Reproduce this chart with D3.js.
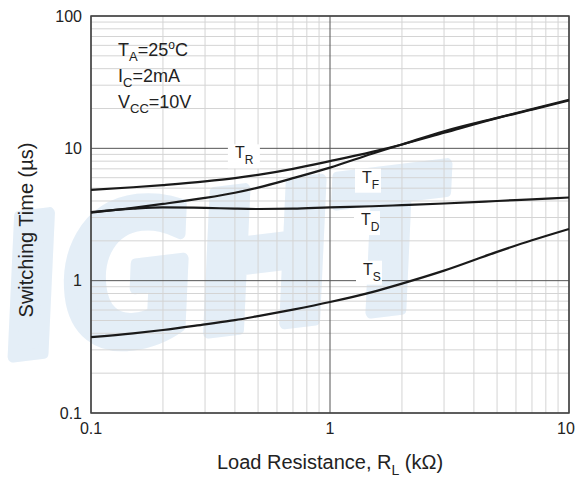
<!DOCTYPE html>
<html>
<head>
<meta charset="utf-8">
<script src="https://cdn.jsdelivr.net/npm/d3@7"></script>
<style>
  body { margin: 0; background: #fff; }
  text { font-family: "Liberation Sans", Arial, sans-serif; fill: #222; }
  .minor { stroke: #d4d4d4; stroke-width: 1; }
  .major { stroke: #555; stroke-width: 1; }
  .curve { fill: none; stroke: #1a1a1a; stroke-width: 2.2; }
</style>
</head>
<body>
<svg id="chart"></svg>
<script>
// load resistance (kOhm) sample points
var rl = [0.1, 0.15, 0.2, 0.3, 0.4, 0.5, 0.7, 1, 1.5, 2, 3, 5, 7, 10];
// switching times (us)
var tR = [4.85, 5.08, 5.28, 5.62, 5.95, 6.3, 7.0, 8.0, 9.4, 10.7, 13.1, 16.9, 19.6, 23.0];
var tF = [3.27, 3.55, 3.8, 4.22, 4.62, 5.05, 5.95, 7.15, 9.1, 10.7, 13.45, 17.0, 19.8, 23.3];
var tD = [3.3, 3.5, 3.58, 3.55, 3.5, 3.48, 3.5, 3.58, 3.65, 3.72, 3.83, 4.0, 4.12, 4.25];
var tS = [0.374, 0.4, 0.424, 0.468, 0.503, 0.54, 0.605, 0.69, 0.82, 0.95, 1.19, 1.65, 2.02, 2.46];

var xTicks = [0.1, 1, 10];
var yTicks = [0.1, 1, 10, 100];

var W = 587, H = 479;
var m = { left: 91, right: 18, top: 16, bottom: 66 };
var w = W - m.left - m.right, h = H - m.top - m.bottom;

var svg = d3.select("#chart").attr("width", W).attr("height", H);

// faint watermark
svg.append("text")
  .attr("transform", "translate(-95,370) rotate(-7) scale(1,1.15)")
  .style("font-family", "'DejaVu Sans', sans-serif")
  .style("font-size", "165px").style("font-weight", "bold").style("font-style", "italic")
  .style("fill", "#e4eef7").style("stroke", "#e4eef7").style("stroke-width", 10)
  .style("stroke-linejoin", "round")
  .text("LIGHT");

var x = d3.scaleLog().domain([0.1, 10]).range([0, w]);
var y = d3.scaleLog().domain([0.1, 100]).range([h, 0]);

var g = svg.append("g").attr("transform", "translate(" + m.left + "," + m.top + ")");

// grid
var minorX = [], minorY = [];
[0.1, 1].forEach(function (d) { for (var k = 2; k <= 9; k++) minorX.push(d * k); });
[0.1, 1, 10].forEach(function (d) { for (var k = 2; k <= 9; k++) minorY.push(d * k); });

g.selectAll(".mx").data(minorX).enter().append("line").attr("class", "minor")
  .attr("x1", d => x(d)).attr("x2", d => x(d)).attr("y1", 0).attr("y2", h);
g.selectAll(".my").data(minorY).enter().append("line").attr("class", "minor")
  .attr("x1", 0).attr("x2", w).attr("y1", d => y(d)).attr("y2", d => y(d));
g.selectAll(".Mx").data(xTicks).enter().append("line").attr("class", "major")
  .attr("x1", d => x(d)).attr("x2", d => x(d)).attr("y1", 0).attr("y2", h);
g.selectAll(".My").data(yTicks).enter().append("line").attr("class", "major")
  .attr("x1", 0).attr("x2", w).attr("y1", d => y(d)).attr("y2", d => y(d));
g.append("rect").attr("width", w).attr("height", h)
  .attr("fill", "none").attr("stroke", "#444").attr("stroke-width", 1.5);

// tick labels
g.selectAll(".yl").data(yTicks).enter().append("text")
  .attr("x", -9).attr("y", d => y(d)).attr("dy", "0.35em")
  .attr("text-anchor", "end").style("font-size", "16px")
  .text(d => d);
g.selectAll(".xl").data(xTicks).enter().append("text")
  .attr("x", d => x(d) - (d === 10 ? 3 : 0)).attr("y", h + 21)
  .attr("text-anchor", "middle").style("font-size", "16px")
  .text(d => d);

// curve labels with white backing
function label(px, py, main, sub, bw) {
  var t = g.append("g").attr("transform", "translate(" + px + "," + py + ")");
  t.append("rect").attr("x", -7).attr("y", -14).attr("width", bw).attr("height", 24).attr("fill", "#fff");
  var tx = t.append("text").style("font-size", "16px");
  tx.append("tspan").text(main);
  tx.append("tspan").attr("dy", 6).style("font-size", "12px").text(sub);
}

// curves
var line = d3.line().x(d => x(d[0])).y(d => y(d[1])).curve(d3.curveMonotoneX);
[tR, tF, tD, tS].forEach(function (s) {
  g.append("path").attr("class", "curve").attr("d", line(rl.map((v, i) => [v, s[i]])));
});

label(x(0.4), y(10) + 10, "T", "R", 32);
label(x(1) + 32, y(5.5), "T", "F", 26);
label(x(1) + 31, y(2.63), "T", "D", 26);
label(x(1) + 33, y(1) - 6, "T", "S", 26);

// conditions box
var cond = g.append("g").attr("transform", "translate(27,40)").style("font-size", "18px");
var c1 = cond.append("text").attr("y", 0);
c1.append("tspan").text("T");
c1.append("tspan").attr("dy", 5).style("font-size", "13px").text("A");
c1.append("tspan").attr("dy", -5).text("=25");
c1.append("tspan").attr("dy", -7).style("font-size", "12px").text("o");
c1.append("tspan").attr("dy", 7).text("C");
var c2 = cond.append("text").attr("y", 26);
c2.append("tspan").text("I");
c2.append("tspan").attr("dy", 5).style("font-size", "13px").text("C");
c2.append("tspan").attr("dy", -5).text("=2mA");
var c3 = cond.append("text").attr("y", 52);
c3.append("tspan").text("V");
c3.append("tspan").attr("dy", 5).style("font-size", "13px").text("CC");
c3.append("tspan").attr("dy", -5).text("=10V");

// axis titles
var xt = svg.append("text").attr("x", m.left + x(1)).attr("y", 469)
  .attr("text-anchor", "middle").style("font-size", "20px");
xt.append("tspan").text("Load Resistance, R");
xt.append("tspan").attr("dy", 6).style("font-size", "14px").text("L");
xt.append("tspan").attr("dy", -6).text(" (k\u03A9)");

svg.append("text")
  .attr("transform", "translate(33,230) rotate(-90)")
  .attr("text-anchor", "middle").style("font-size", "20px")
  .text("Switching Time (\u00B5s)");
</script>
</body>
</html>
